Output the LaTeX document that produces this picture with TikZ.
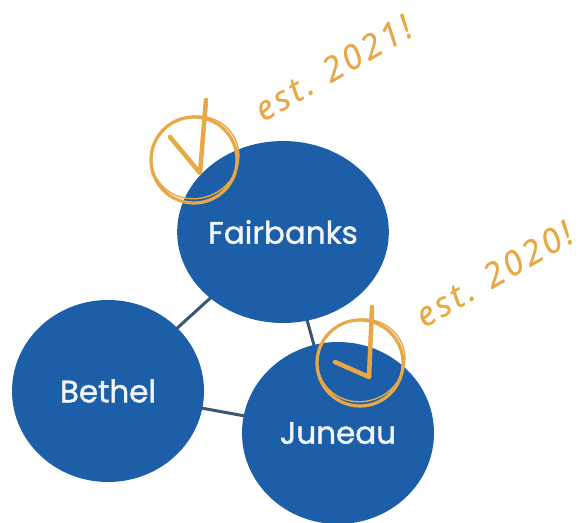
\documentclass[tikz,border=0pt]{standalone}
\usepackage{fontspec}
\setmainfont{Poppins}
\newfontfamily\cityfont[FakeBold=1.3]{Poppins}
\newfontfamily\handfont[LetterSpace=10,FakeBold=0.8]{Open Sans}
\usetikzlibrary{shapes.geometric,backgrounds}
\definecolor{cityblue}{HTML}{1D5EA8}
\definecolor{linkgray}{HTML}{3C5670}
\definecolor{markorange}{HTML}{E7A845}
\tikzset{
  city/.style={ellipse, fill=cityblue, minimum width=192pt, minimum height=182pt, inner sep=0pt,
    text=white!94!cityblue, font=\cityfont\fontsize{31}{34}\selectfont},
  link/.style={draw=linkgray, line width=3pt},
  checkring/.style={draw=markorange, line width=3.2pt},
  checkline/.style={draw=markorange, line width=4.5pt, line cap=round, line join=round},
  esttext/.style={text=markorange, font=\handfont\itshape\fontsize{34}{36}\selectfont, rotate=30}
}
\begin{document}
\begin{tikzpicture}[x=1pt,y=-1pt]
\useasboundingbox (0,0) rectangle (586,522);
\node[city] (F) at (283,232) {Fairbanks};
\node[city] (B) at (108,391) {Bethel};
\node[city] (J) at (338,433) {Juneau};
\begin{scope}[on background layer]
\draw[link] (F.center) -- (B.center);
\draw[link] (F.center) -- (J.center);
\draw[link] (B.center) -- (J.center);
\end{scope}
% first check
\node[circle, checkring, minimum size=86pt] (c1) at (194,160) {};
\draw[markorange, line width=1.4pt, rotate around={20:(c1.center)}] ([shift={(2,-2)}]c1.center) ellipse [x radius=44pt, y radius=41pt];
\coordinate (c1a) at (170,137);
\coordinate (c1b) at (200,173);
\coordinate (c1c) at (206,100);
\draw[checkline] (c1a) -- (c1b) -- (c1c);
\node[esttext] (e1) at (333,68) {est. 2021!};
% second check
\node[circle, checkring, minimum size=86pt] (c2) at (360,363) {};
\draw[markorange, line width=1.4pt, rotate around={20:(c2.center)}] ([shift={(2,-2)}]c2.center) ellipse [x radius=44pt, y radius=41pt];
\coordinate (c2a) at (335,362);
\coordinate (c2b) at (369,377);
\coordinate (c2c) at (372,307);
\draw[checkline] (c2a) -- (c2b) -- (c2c);
\node[esttext] (e2) at (494,274) {est. 2020!};
\end{tikzpicture}
\end{document}
